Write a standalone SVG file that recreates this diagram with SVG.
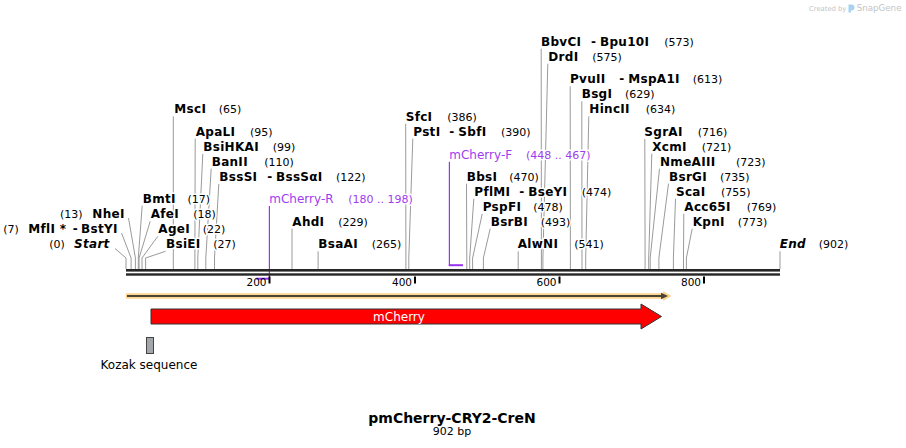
<svg xmlns="http://www.w3.org/2000/svg" width="906" height="448" viewBox="0 0 906 448">
<style>
text{font-family:"DejaVu Sans","Verdana",sans-serif;paint-order:stroke;stroke:#fff;stroke-width:3px;stroke-linejoin:round}
.n{font-size:12px;font-weight:bold;letter-spacing:0.3px;fill:#000}
.i{font-style:italic}
.p{font-size:11px;fill:#000}
.pr{fill:#a03cf0}
.prn{font-size:12px}
.tk{font-size:10.5px;fill:#000;text-anchor:end}
.ln{fill:none;stroke:#9a9a9a;stroke-width:1}
.pl{fill:none;stroke:#9933ee;stroke-width:1.2}
.ph{fill:none;stroke:#9933ee;stroke-width:2}
.tick{stroke:#000;stroke-width:2}
</style>
<rect width="906" height="448" fill="#fff"/>

<g id="watermark">
<text x="809" y="10.7" style="font-size:6.8px;fill:#c4c4c4;stroke:none">Created by</text>
<path d="M848.5,4.5 h3 a3,3 0 0 1 0,6 h-0.5 v2 h-2.5 z" fill="#a8d2f0"/>
<text x="856.7" y="10.7" style="font-size:8.7px;fill:#c4c4c4;stroke:none">SnapGene</text>
</g>

<g id="connectors">
<polyline class="ln" points="115,248.5 126,258 126,269"/>
<polyline class="ln" points="121.5,233 131.1,258 131.1,269"/>
<polyline class="ln" points="128.5,218 135.4,258 135.4,269"/>
<polyline class="ln" points="142.2,205.7 138.3,258 138.3,269"/>
<polyline class="ln" points="150.2,221.3 139.1,258 139.1,269"/>
<polyline class="ln" points="157.8,236.3 142,258 142,269"/>
<polyline class="ln" points="165.5,251.3 145.6,258 145.6,269"/>
<polyline class="ln" points="173.3,116.3 173.3,269"/>
<polyline class="ln" points="195.2,138.7 194.9,258 194.9,269"/>
<polyline class="ln" points="202.8,154 197.8,258 197.8,269"/>
<polyline class="ln" points="211.2,168.7 205.8,258 205.8,269"/>
<polyline class="ln" points="218.8,184 214.5,258 214.5,269"/>
<polyline class="ln" points="292,228.7 292,269"/>
<polyline class="ln" points="318.1,251.3 318.1,269"/>
<polyline class="ln" points="405.7,123.7 405.9,258 405.9,269"/>
<polyline class="ln" points="412.8,138.7 408.8,258 408.8,269"/>
<polyline class="ln" points="466.5,183.7 466.8,258 466.8,269"/>
<polyline class="ln" points="473.8,198.7 469.7,258 469.7,269"/>
<polyline class="ln" points="482.2,214 472.6,258 472.6,269"/>
<polyline class="ln" points="490.2,228.7 483.4,258 483.4,269"/>
<polyline class="ln" points="518.2,251.3 518.2,269"/>
<polyline class="ln" points="541.2,48.7 541.4,258 541.4,269"/>
<polyline class="ln" points="547.8,63.7 542.9,258 542.9,269"/>
<polyline class="ln" points="570.2,86.3 570.4,258 570.4,269"/>
<polyline class="ln" points="581.8,101.3 582,258 582,269"/>
<polyline class="ln" points="588.8,116.3 585.7,258 585.7,269"/>
<polyline class="ln" points="644.8,139 645.1,258 645.1,269"/>
<polyline class="ln" points="651.8,153.7 648.7,258 648.7,269"/>
<polyline class="ln" points="659.5,168.7 650.2,258 650.2,269"/>
<polyline class="ln" points="668.5,183.7 658.9,258 658.9,269"/>
<polyline class="ln" points="675.5,198.7 673.4,258 673.4,269"/>
<polyline class="ln" points="683.8,213.7 683.5,258 683.5,269"/>
<polyline class="ln" points="692.2,228.7 686.4,258 686.4,269"/>
<polyline class="ln" points="780,251.3 780,269"/>
<line class="pl" x1="269.4" y1="206" x2="269.4" y2="279.7"/>
<line class="ph" x1="256.3" y1="278.7" x2="270" y2="278.7"/>
<line class="pl" x1="449.4" y1="161.7" x2="449.4" y2="266"/>
<line class="ph" x1="448.8" y1="265.2" x2="463" y2="265.2"/>
</g>

<g id="backbone">
<rect x="126" y="269" width="654" height="2.6" fill="#262626"/>
<rect x="126" y="273.3" width="654" height="2.4" fill="#262626"/>
<line class="tick" x1="269.5" y1="276.5" x2="269.5" y2="283.5"/>
<line class="tick" x1="415" y1="276.5" x2="415" y2="283.5"/>
<line class="tick" x1="559.5" y1="276.5" x2="559.5" y2="283.5"/>
<line class="tick" x1="704" y1="276.5" x2="704" y2="283.5"/>
<text class="tk" x="266.5" y="285.7" style="stroke:none">200</text>
<text class="tk" x="412" y="285.7" style="stroke:none">400</text>
<text class="tk" x="556.5" y="285.7" style="stroke:none">600</text>
<text class="tk" x="701" y="285.7" style="stroke:none">800</text>
</g>

<g id="orf">
<path d="M126,293.3 H663 V291 L671.5,296 L663,301 V298.7 H126 Z" fill="#fdd48e"/>
<line x1="127" y1="296" x2="663" y2="296" stroke="#4d4436" stroke-width="2"/>
<path d="M661,292.8 L668,296 L661,299.2 Z" fill="#4d4436"/>
</g>

<g id="mCherry">
<path d="M151,309 H641 V304 L661.5,316.5 L641,329 V324 H151 Z" fill="#ff0000" stroke="#333" stroke-width="1"/>
<text x="399" y="320.5" text-anchor="middle" style="font-size:12px;fill:#fff;stroke:none">mCherry</text>
</g>

<g id="kozak">
<rect x="146.5" y="337.5" width="7" height="16" fill="#a3a6ab" stroke="#444" stroke-width="1"/>
<text x="149" y="369" text-anchor="middle" style="font-size:12px;fill:#000;stroke:none">Kozak sequence</text>
</g>

<g id="title">
<text x="452" y="422.7" text-anchor="middle" style="font-size:14px;font-weight:bold;fill:#000;stroke:none">pmCherry-CRY2-CreN</text>
<text x="452" y="435" text-anchor="middle" style="font-size:11px;fill:#000;stroke:none">902 bp</text>
</g>

<g id="Start"><text class="p" x="49.3" y="248.3">(0)</text><text class="n i" x="74" y="248.3">Start</text></g>
<g id="MflI"><text class="p" x="3.3" y="233.3">(7)</text><text class="n" x="28.3" y="233.3">MflI *</text><text class="n" x="72.7" y="233.3">-</text><text class="n" x="81" y="233.3">BstYI</text></g>
<g id="NheI"><text class="p" x="60" y="218.3">(13)</text><text class="n" x="92.3" y="218.3">NheI</text></g>
<g id="BmtI"><text class="n" x="142.7" y="202.7">BmtI</text><text class="p" x="187.5" y="202.7">(17)</text></g>
<g id="AfeI"><text class="n" x="150.7" y="218.3">AfeI</text><text class="p" x="193.3" y="218.3">(18)</text></g>
<g id="AgeI"><text class="n" x="158.3" y="233.3">AgeI</text><text class="p" x="202.7" y="233.3">(22)</text></g>
<g id="BsiEI"><text class="n" x="166" y="248.3">BsiEI</text><text class="p" x="213.3" y="248.3">(27)</text></g>
<g id="MscI"><text class="n" x="174.3" y="113.3">MscI</text><text class="p" x="218.7" y="113.3">(65)</text></g>
<g id="ApaLI"><text class="n" x="195.7" y="135.7">ApaLI</text><text class="p" x="250" y="135.7">(95)</text></g>
<g id="BsiHKAI"><text class="n" x="203.3" y="151">BsiHKAI</text><text class="p" x="272.7" y="151">(99)</text></g>
<g id="BanII"><text class="n" x="211.7" y="165.7">BanII</text><text class="p" x="264.3" y="165.7">(110)</text></g>
<g id="BssSI"><text class="n" x="219.3" y="181">BssSI</text><text class="n" x="267.3" y="181">-</text><text class="n" x="276" y="181">BssSαI</text><text class="p" x="336" y="181">(122)</text></g>
<g id="mCherry-R"><text class="pr prn" x="269.3" y="203.3">mCherry-R</text><text class="pr p" x="348.3" y="203.3" style="fill:#a03cf0">(180 .. 198)</text></g>
<g id="AhdI"><text class="n" x="292.3" y="225.7">AhdI</text><text class="p" x="338.3" y="225.7">(229)</text></g>
<g id="BsaAI"><text class="n" x="318.3" y="248.3">BsaAI</text><text class="p" x="371.7" y="248.3">(265)</text></g>
<g id="SfcI"><text class="n" x="405.7" y="120.7">SfcI</text><text class="p" x="447.3" y="120.7">(386)</text></g>
<g id="PstI"><text class="n" x="413.3" y="135.7">PstI</text><text class="n" x="449.3" y="135.7">-</text><text class="n" x="458.3" y="135.7">SbfI</text><text class="p" x="501" y="135.7">(390)</text></g>
<g id="mCherry-F"><text class="pr prn" x="449.3" y="159">mCherry-F</text><text class="pr p" x="526" y="159" style="fill:#a03cf0">(448 .. 467)</text></g>
<g id="BbsI"><text class="n" x="466.7" y="180.7">BbsI</text><text class="p" x="509.3" y="180.7">(470)</text></g>
<g id="PflMI"><text class="n" x="474.3" y="195.7">PflMI</text><text class="n" x="519.3" y="195.7">-</text><text class="n" x="528.3" y="195.7">BseYI</text><text class="p" x="581.7" y="195.7">(474)</text></g>
<g id="PspFI"><text class="n" x="482.7" y="211">PspFI</text><text class="p" x="533.3" y="211">(478)</text></g>
<g id="BsrBI"><text class="n" x="490.7" y="225.7">BsrBI</text><text class="p" x="540.7" y="225.7">(493)</text></g>
<g id="AlwNI"><text class="n" x="517.7" y="248.3">AlwNI</text><text class="p" x="574.3" y="248.3">(541)</text></g>
<g id="BbvCI"><text class="n" x="541" y="45.7">BbvCI</text><text class="n" x="591" y="45.7">-</text><text class="n" x="600" y="45.7">Bpu10I</text><text class="p" x="664.3" y="45.7">(573)</text></g>
<g id="DrdI"><text class="n" x="548.3" y="60.7">DrdI</text><text class="p" x="592.3" y="60.7">(575)</text></g>
<g id="PvuII"><text class="n" x="570" y="83.3">PvuII</text><text class="n" x="619.3" y="83.3">-</text><text class="n" x="628.3" y="83.3">MspA1I</text><text class="p" x="692.7" y="83.3">(613)</text></g>
<g id="BsgI"><text class="n" x="581.7" y="98.3">BsgI</text><text class="p" x="625" y="98.3">(629)</text></g>
<g id="HincII"><text class="n" x="589.3" y="113.3">HincII</text><text class="p" x="645.7" y="113.3">(634)</text></g>
<g id="SgrAI"><text class="n" x="644.3" y="136">SgrAI</text><text class="p" x="697.7" y="136">(716)</text></g>
<g id="XcmI"><text class="n" x="652.3" y="150.7">XcmI</text><text class="p" x="701.7" y="150.7">(721)</text></g>
<g id="NmeAIII"><text class="n" x="660" y="165.7">NmeAIII</text><text class="p" x="736" y="165.7">(723)</text></g>
<g id="BsrGI"><text class="n" x="669" y="180.7">BsrGI</text><text class="p" x="720" y="180.7">(735)</text></g>
<g id="ScaI"><text class="n" x="676" y="195.7">ScaI</text><text class="p" x="721" y="195.7">(755)</text></g>
<g id="Acc65I"><text class="n" x="684.3" y="210.7">Acc65I</text><text class="p" x="746.7" y="210.7">(769)</text></g>
<g id="KpnI"><text class="n" x="692.7" y="225.7">KpnI</text><text class="p" x="737.7" y="225.7">(773)</text></g>
<g id="End"><text class="n i" x="779.7" y="248.3">End</text><text class="p" x="818.7" y="248.3">(902)</text></g>
</svg>
